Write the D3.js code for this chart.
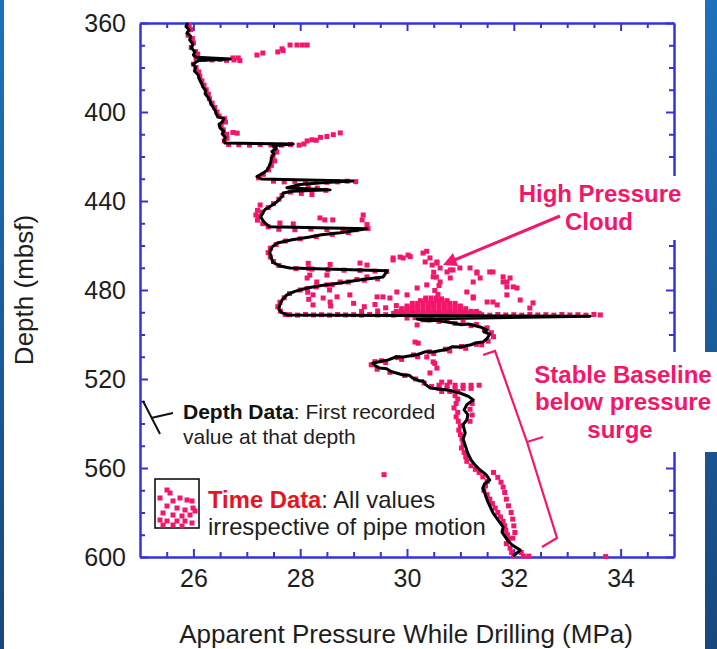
<!DOCTYPE html>
<html><head><meta charset="utf-8">
<script src="https://cdn.jsdelivr.net/npm/d3@7"></script>
<style>body{margin:0;background:#fff;} svg{display:block;font-family:"Liberation Sans",Arial,sans-serif;}</style>
</head><body><svg id="c" width="717" height="649"></svg>
<script>
// ---------- DATA ----------
const xTicks = [26, 28, 30, 32, 34];
const xMinor = [25.5, 26.5, 27, 27.5, 28.5, 29, 29.5, 30.5, 31, 31.5, 32.5, 33, 33.5, 34.5];
const yTicks = [360, 400, 440, 480, 520, 560, 600];
const yMinor = [370, 380, 390, 410, 420, 430, 450, 460, 470, 490, 500, 510, 530, 540, 550, 570, 580, 590];

// Depth data: first recorded value at each depth [pressure MPa, depth mbsf]
const depthData = [
[25.90,360.0],[25.86,361.5],[25.92,363.0],[25.88,364.5],[25.95,366.0],[25.93,367.6],[25.99,369.5],[25.96,371.2],[26.03,373.0],[26.00,374.4],[26.05,375.4],[26.69,376.2],[26.10,376.8],[26.07,377.3],[25.99,378.4],[26.04,380.0],[26.02,381.6],[26.09,383.4],[26.11,385.2],[26.15,387.0],[26.18,388.8],[26.23,390.4],[26.22,391.8],[26.27,393.3],[26.31,395.0],[26.33,396.5],[26.37,397.8],[26.41,399.6],[26.43,401.0],[26.46,402.2],[26.57,403.0],[26.54,404.5],[26.48,405.5],[26.50,407.2],[26.57,408.6],[26.54,409.9],[26.60,411.5],[26.57,412.8],[26.59,413.9],[27.87,414.4],[27.49,415.2],[27.55,416.5],[27.47,417.8],[27.51,418.9],[27.46,420.5],[27.45,422.5],[27.42,424.2],[27.38,426.1],[27.30,427.6],[27.19,429.0],[27.28,430.1],[28.99,431.0],[28.40,431.8],[28.00,432.6],[27.75,434.0],[28.56,435.0],[27.85,435.6],[27.68,436.4],[27.66,438.0],[27.57,440.2],[27.48,441.8],[27.34,443.8],[27.30,445.4],[27.26,447.2],[27.30,448.6],[27.34,449.9],[27.43,451.6],[29.25,452.5],[28.75,454.3],[28.40,455.2],[28.18,456.2],[27.85,457.4],[27.57,458.9],[27.48,460.5],[27.43,463.0],[27.45,465.0],[27.49,467.6],[27.62,469.2],[27.81,470.1],[29.63,471.4],[29.55,474.2],[29.10,475.5],[28.75,476.9],[28.40,478.0],[28.13,479.1],[27.90,480.6],[27.75,482.2],[27.66,484.5],[27.62,486.7],[27.60,488.6],[27.64,490.0],[27.75,491.2],[33.43,491.8],[30.19,493.0],[30.40,493.9],[30.55,493.6],[30.86,494.8],[31.02,495.6],[31.15,495.3],[31.37,496.6],[31.50,498.0],[31.44,498.8],[31.55,499.8],[31.50,501.8],[31.42,503.4],[31.30,503.7],[31.20,504.6],[30.99,505.6],[30.85,505.5],[30.75,506.6],[30.49,507.9],[30.35,507.7],[30.20,509.0],[29.93,510.1],[29.80,510.0],[29.65,511.4],[29.36,512.8],[29.40,514.0],[29.49,515.1],[29.62,515.4],[29.70,516.6],[29.93,518.2],[30.04,518.3],[30.10,519.5],[30.24,520.9],[30.30,520.8],[30.35,522.5],[30.43,524.0],[30.75,524.9],[30.99,526.3],[31.15,527.8],[31.24,529.4],[31.12,531.5],[31.07,533.9],[31.14,536.0],[31.12,538.4],[31.05,540.5],[31.09,544.3],[31.05,547.0],[31.10,550.6],[31.14,553.5],[31.20,556.4],[31.28,558.8],[31.37,560.9],[31.48,563.0],[31.55,565.4],[31.45,567.2],[31.42,569.0],[31.46,571.5],[31.50,574.4],[31.55,577.0],[31.61,580.2],[31.70,583.2],[31.80,586.5],[31.78,588.8],[31.84,591.0],[31.90,593.0],[31.97,594.6],[32.12,596.9],[31.99,599.6]
];

// Time data: all values irrespective of pipe motion [pressure MPa, depth mbsf]
const timeData = [
[25.92,361],[25.95,363],[25.90,365.5],[25.98,367],[26.00,369],[25.96,371],[26.04,372.8],[26.08,374],[26.05,376],
[26.20,376.3],[26.35,376.6],[26.50,376.4],[26.62,376.8],[26.76,376.6],[26.87,376.9],
[26.74,375.7],[26.84,375.7],[27.19,374.4],[27.30,373.5],[27.58,373.0],[27.66,371.6],[27.68,372.4],[27.81,369.9],[27.94,369.9],[28.04,369.9],[28.13,369.9],
[26.00,378.5],[26.05,380],[26.10,382],[26.12,384],[26.16,386],[26.20,388],[26.24,390],[26.28,392],[26.30,394],[26.35,396],[26.40,398],[26.44,400],[26.48,401.8],[26.58,403],[26.60,404.5],[26.52,406],[26.56,408],[26.62,410],[26.63,411.8],[26.58,413],[26.66,414.6],
[26.74,409.2],[26.82,409.5],
[26.85,414.7],[27.05,414.9],[27.25,414.6],[27.45,414.8],[27.65,414.9],[27.82,414.6],[27.98,414.9],[28.07,414.4],
[28.13,413.0],[28.22,412.5],[28.30,412.7],[28.38,411.4],[28.50,411.0],[28.62,410.2],[28.75,409.4],
[27.53,416.2],[27.56,418],[27.49,420],[27.52,422],[27.46,424],[27.41,426],[27.31,428],[27.22,429.6],
[27.50,431.1],[27.70,431.4],[27.90,431.2],[28.10,431.5],[28.30,431.3],[28.50,431.6],[28.70,431.4],[28.88,431.1],[29.04,431.3],
[27.95,433.2],[28.15,433.6],[28.32,434.2],[28.48,435.2],[27.82,436.0],[28.02,436.6],[28.22,437.1],
[27.66,437.5],[27.60,439.2],[27.50,441.2],[27.40,443.0],[27.28,445.0],[27.22,447],[27.20,448.6],[27.30,450.2],[27.40,451.6],[27.20,444.2],[27.17,446.3],
[27.62,449.9],[27.87,450.3],[28.37,447.6],[28.46,448.5],[28.61,448.5],[29.18,446.3],[29.16,448.5],[29.25,450.6],[27.25,441.8],
[27.60,452.7],[27.90,452.9],[28.20,452.6],[28.50,452.8],[28.80,452.7],[29.05,452.9],[29.27,452.4],
[28.90,454.2],[28.60,455.0],[28.30,456.0],[28.00,457.0],[27.72,458.0],[27.55,459.6],[27.44,461.2],[27.40,463.2],[27.44,465.2],[27.50,467.2],[27.60,469.0],
[27.92,470.4],[28.22,470.6],[28.52,470.9],[28.82,471.1],[29.12,471.2],[29.40,471.5],[29.62,471.7],
[29.74,465.6],[29.87,465.2],[30.02,464.3],[29.12,467.9],[29.25,468.8],
[29.45,475.0],[29.20,475.6],[28.90,476.4],[28.60,477.6],[28.30,478.6],[28.00,480.0],[27.80,481.6],[27.70,483.5],[27.62,485.5],[27.58,487.5],[27.63,489.5],[27.72,491.0],
[28.13,474.6],[28.18,473.3],[28.31,476.4],[28.50,477.7],[28.75,476.4],[29.06,475.3],[29.25,474.1],[28.50,473.3],[28.13,479.4],[28.24,482.2],[28.43,483.6],[28.69,483.1],[28.93,482.2],[28.24,486.7],[28.56,485.4],[28.15,468.0],[28.16,470.3],[28.14,481.0],[28.16,484.2],[28.55,480.0],[28.57,487.2],[28.56,468.5],
[29.74,466.5],[29.93,465.6],[30.06,465.0],[30.30,463.4],[30.37,462.6],[30.43,465.6],[30.34,467.4],[30.47,468.8],[30.56,467.4],[30.62,470.1],[30.75,471.9],[30.86,471.0],[30.99,470.1],[31.18,470.1],[31.31,471.9],[31.37,474.6],[31.24,476.4],[31.55,471.9],[31.80,474.1],[31.87,476.4],[31.99,478.6],[31.93,474.6],[30.81,474.6],[30.62,476.4],[30.49,474.1],[30.37,477.7],[30.19,479.1],[30.00,482.2],[29.81,480.9],[29.55,483.1],[29.44,483.1],[29.68,483.6],[31.12,480.9],[31.24,483.6],[31.50,485.4],[31.69,486.7],[31.87,482.2],[32.06,479.1],[32.36,485.8],[32.30,488.1],[30.56,467.9],[30.81,471.0],[31.31,472.4],[31.61,471.9],[31.80,476.4],[31.87,478.6],[32.12,484.5],[31.61,485.4],[31.24,483.1],
[30.50,472.0],[30.55,474.2],[30.60,478.0],[30.52,480.2],[30.58,482.0],[30.65,484.0],[30.48,486.0],
[29.00,486.0],[29.20,487.5],[29.40,486.5],[29.60,488.0],[29.80,487.0],[30.00,488.6],[29.15,489.6],[29.45,489.4],
[30.35,483.6],[30.45,483.6],[30.55,483.6],
[30.25,484.8],[30.35,484.8],[30.45,484.8],[30.55,484.8],[30.65,484.8],[30.75,484.8],
[30.10,486.0],[30.20,486.0],[30.30,486.0],[30.40,486.0],[30.50,486.0],[30.60,486.0],[30.70,486.0],[30.80,486.0],[30.90,486.0],
[30.00,487.2],[30.10,487.2],[30.20,487.2],[30.30,487.2],[30.40,487.2],[30.50,487.2],[30.60,487.2],[30.70,487.2],[30.80,487.2],[30.90,487.2],[31.00,487.2],
[29.90,488.4],[30.00,488.4],[30.10,488.4],[30.20,488.4],[30.30,488.4],[30.40,488.4],[30.50,488.4],[30.60,488.4],[30.70,488.4],[30.80,488.4],[30.90,488.4],[31.00,488.4],[31.10,488.4],
[29.80,489.6],[29.90,489.6],[30.00,489.6],[30.10,489.6],[30.20,489.6],[30.30,489.6],[30.40,489.6],[30.50,489.6],[30.60,489.6],[30.70,489.6],[30.80,489.6],[30.90,489.6],[31.00,489.6],[31.10,489.6],[31.20,489.6],[31.30,489.6],
[29.75,490.5],[29.85,490.5],[29.95,490.5],[30.05,490.5],[30.15,490.5],[30.25,490.5],[30.35,490.5],[30.45,490.5],[30.55,490.5],[30.65,490.5],[30.75,490.5],[30.85,490.5],[30.95,490.5],[31.05,490.5],[31.15,490.5],[31.25,490.5],[31.35,490.5],
[27.80,491.1],[27.95,491.3],[28.10,491.0],[28.25,491.2],[28.40,491.1],[28.55,491.3],[28.70,491.0],[28.85,491.2],[29.00,491.1],[29.15,491.3],[29.30,491.0],[29.45,491.2],[29.60,491.1],[29.75,491.3],[29.90,491.0],[30.05,491.2],[30.20,491.1],[30.35,491.3],[30.50,491.0],[30.65,491.2],[30.80,491.1],[30.95,491.3],[31.10,491.0],[31.25,491.2],[31.40,491.1],[31.55,491.3],[31.70,491.0],[31.85,491.2],[32.00,491.1],[32.15,491.3],[32.30,491.0],[32.45,491.2],[32.60,491.1],[32.75,491.3],[32.90,491.0],[33.05,491.2],[33.20,491.1],[33.35,491.3],[33.50,491.0],[33.62,491.2],
[30.00,492.6],[30.30,493.4],[30.60,494.1],[30.90,495.0],[31.20,496.0],[31.45,497.6],[31.58,499.2],[31.62,501.0],[31.52,503.0],[31.30,504.4],[31.02,505.4],[30.72,506.6],[30.42,507.8],[30.12,509.2],[29.82,510.4],[29.52,511.8],[29.33,513.6],[29.44,515.6],[29.68,517.0],[29.96,518.4],[30.16,520.0],[30.32,521.8],[30.46,523.4],
[30.15,492.4],[30.45,493.0],[30.75,493.6],[31.05,494.5],[31.30,495.5],[31.50,497.0],[31.40,504.6],[31.10,506.2],[30.80,507.4],[30.50,508.6],[30.20,510.0],[29.90,511.2],[29.60,512.6],[29.40,512.2],
[30.19,495.7],[30.15,503.4],[30.21,503.9],[30.37,510.1],[30.49,512.3],[30.52,513.0],[30.56,515.1],[30.43,517.3],
[30.65,521.4],[30.80,521.4],
[30.60,522.8],[30.75,522.8],[30.90,522.8],[31.05,522.8],[31.20,522.8],[31.35,522.8],
[30.60,524.2],[30.75,524.2],[30.90,524.2],[31.05,524.2],[31.20,524.2],
[30.65,525.6],[30.80,525.6],[30.95,525.6],
[30.90,527.5],[30.95,529.0],[30.92,531.0],[30.88,533.0],[30.95,535.0],[30.92,537.0],[30.96,539.0],[31.00,541.0],[30.97,543.0],[31.00,545.0],[31.03,547.0],[31.05,549.0],[31.02,551.0],[31.07,553.0],[31.10,555.0],[31.12,557.0],[31.20,559.0],[31.28,560.6],
[31.22,531.0],[31.18,533.6],[31.22,536.2],[31.18,539.0],
[31.35,562.0],[31.42,564.0],[31.50,566.0],[31.47,568.0],[31.44,570.0],[31.50,572.0],[31.55,574.0],[31.60,576.0],[31.65,578.0],[31.70,580.0],[31.75,582.0],[31.80,584.0],[31.83,586.0],[31.85,588.0],[31.88,590.0],[31.90,592.0],[31.86,594.0],[31.93,596.0],[31.96,598.0],[32.00,599.5],
[31.62,562.0],[31.70,564.2],[31.76,566.4],[31.80,568.6],[31.83,571.0],[31.86,574.0],[31.90,577.0],[31.95,580.0],[31.98,583.0],[32.00,586.0],[32.02,589.0],[31.98,591.5],
[32.18,599.6],[32.28,599.6],[32.14,598.0],[33.72,599.8],[29.57,563.0]
];

// legend icon dots (offsets inside the icon box)
const legendDots = [[12,11],[15,14],[5,19],[18,22],[25,19],[32,21],[37,22],[12,27],[22,29],[30,31],[38,29],[8,34],[18,36],[27,37],[35,36],[40,32],[5,41],[12,42],[22,42],[30,42],[37,44],[8,46],[18,46],[27,47]];

// ---------- DRAW ----------
const svg = d3.select("#c");
const PINK = "#f5156b", BLUE = "#3434d6", TXT = "#1e1e1e";
const x = d3.scaleLinear().domain([25, 35]).range([140, 674]);
const y = d3.scaleLinear().domain([360, 600]).range([23, 557]);

svg.append("rect").attr("width", 717).attr("height", 649).attr("fill", "#fff");
const grad = svg.append("defs").append("linearGradient").attr("id", "bg").attr("x1", 0).attr("y1", 0).attr("x2", 0).attr("y2", 1);
grad.append("stop").attr("offset", "0%").attr("stop-color", "#1d72bb");
grad.append("stop").attr("offset", "100%").attr("stop-color", "#18477f");
svg.append("rect").attr("x", 0).attr("y", 0).attr("width", 4).attr("height", 649).attr("fill", "url(#bg)");
svg.append("rect").attr("x", 705).attr("y", 0).attr("width", 12).attr("height", 649).attr("fill", "url(#bg)");

function styleAxis(g) {
  g.select(".domain").attr("stroke", BLUE).attr("stroke-width", 2);
  g.selectAll(".tick line").attr("stroke", BLUE).attr("stroke-width", 2);
  g.selectAll(".tick text").attr("fill", TXT).attr("font-size", 25).attr("font-family", "Liberation Sans, Arial, sans-serif");
}
const axL = svg.append("g").attr("transform", "translate(140,0)")
  .call(d3.axisLeft(y).tickValues(yTicks).tickSize(-8).tickSizeOuter(0).tickPadding(14).tickFormat(d3.format("d")));
styleAxis(axL);
styleAxis(svg.append("g").attr("transform", "translate(140,0)")
  .call(d3.axisLeft(y).tickValues(yMinor).tickSize(-5).tickSizeOuter(0).tickFormat("")));
styleAxis(svg.append("g").attr("transform", "translate(0,557)")
  .call(d3.axisBottom(x).tickValues(xTicks).tickSize(-8).tickSizeOuter(0).tickPadding(12).tickFormat(d3.format("d"))));
styleAxis(svg.append("g").attr("transform", "translate(0,557)")
  .call(d3.axisBottom(x).tickValues(xMinor).tickSize(-5).tickSizeOuter(0).tickFormat("")));
styleAxis(svg.append("g").attr("transform", "translate(0,23)")
  .call(d3.axisTop(x).tickValues(xTicks).tickSize(-8).tickSizeOuter(0).tickFormat("")));
styleAxis(svg.append("g").attr("transform", "translate(0,23)")
  .call(d3.axisTop(x).tickValues(xMinor).tickSize(-5).tickSizeOuter(0).tickFormat("")));
styleAxis(svg.append("g").attr("transform", "translate(674,0)")
  .call(d3.axisRight(y).tickValues(yTicks).tickSize(-8).tickSizeOuter(0).tickFormat("")));
styleAxis(svg.append("g").attr("transform", "translate(674,0)")
  .call(d3.axisRight(y).tickValues(yMinor).tickSize(-5).tickSizeOuter(0).tickFormat("")));

// time data points
svg.append("g").selectAll("rect").data(timeData).join("rect")
  .attr("x", d => x(d[0]) - 2.5).attr("y", d => y(d[1]) - 2.5)
  .attr("width", 5).attr("height", 5).attr("fill", PINK);

// depth data line
svg.append("path").datum(depthData)
  .attr("d", d3.line().x(d => x(d[0])).y(d => y(d[1])))
  .attr("fill", "none").attr("stroke", "#000").attr("stroke-width", 3).attr("stroke-linejoin", "round");

// axis titles
svg.append("text").attr("x", 406).attr("y", 643).attr("text-anchor", "middle")
  .attr("font-size", 26).attr("fill", TXT).text("Apparent Pressure While Drilling (MPa)");
svg.append("text").attr("transform", "translate(33,290) rotate(-90)").attr("text-anchor", "middle")
  .attr("font-size", 26).attr("fill", TXT).text("Depth (mbsf)");

// annotation: High Pressure Cloud
svg.append("rect").attr("x", 508).attr("y", 176).attr("width", 190).attr("height", 64).attr("fill", "#fff");
const ann1 = svg.append("text").attr("text-anchor", "middle").attr("font-size", 24).attr("font-weight", "bold").attr("fill", PINK);
ann1.append("tspan").attr("x", 600).attr("y", 202).text("High Pressure");
ann1.append("tspan").attr("x", 599).attr("y", 230).text("Cloud");
svg.append("line").attr("x1", 560).attr("y1", 216).attr("x2", 452).attr("y2", 261)
  .attr("stroke", PINK).attr("stroke-width", 3);
svg.append("path").attr("d", "M443,265 L458,266 L453,253 Z").attr("fill", PINK);

// annotation: Stable Baseline
svg.append("rect").attr("x", 530).attr("y", 352).attr("width", 187).attr("height", 100).attr("fill", "#fff");
const ann2 = svg.append("text").attr("text-anchor", "middle").attr("font-size", 24).attr("font-weight", "bold").attr("fill", PINK);
ann2.append("tspan").attr("x", 623).attr("y", 383).text("Stable Baseline");
ann2.append("tspan").attr("x", 623).attr("y", 410).text("below pressure");
ann2.append("tspan").attr("x", 620).attr("y", 438).text("surge");
svg.append("path").attr("d", "M483,355 L495,351 L527,442 L543,437 M527,442 L557,538 L542,547")
  .attr("fill", "none").attr("stroke", PINK).attr("stroke-width", 2.2).attr("stroke-linejoin", "miter");

// legend: depth data
svg.append("path").attr("d", "M143,401 L160,434 M151,418 L173,413").attr("fill", "none").attr("stroke", "#111").attr("stroke-width", 2);
const l1 = svg.append("text").attr("font-size", 21).attr("fill", TXT);
l1.append("tspan").attr("x", 183).attr("y", 419).attr("font-weight", "bold").attr("fill", "#111").text("Depth Data");
l1.append("tspan").text(": First recorded");
svg.append("text").attr("x", 183).attr("y", 444).attr("font-size", 21).attr("fill", TXT).text("value at that depth");

// legend: time data
svg.append("rect").attr("x", 155).attr("y", 479).attr("width", 44).attr("height", 49).attr("fill", "#fff").attr("stroke", "#111").attr("stroke-width", 1.6);
svg.append("g").selectAll("rect").data(legendDots).join("rect")
  .attr("x", d => 155 + d[0] - 2.5).attr("y", d => 479 + d[1] - 2.5).attr("width", 5).attr("height", 5).attr("fill", PINK);
const l2 = svg.append("text").attr("font-size", 23.8).attr("fill", TXT);
l2.append("tspan").attr("x", 208).attr("y", 508).attr("font-weight", "bold").attr("fill", "#e8141f").text("Time Data");
l2.append("tspan").text(": All values");
svg.append("text").attr("x", 208).attr("y", 535).attr("font-size", 23.8).attr("fill", TXT).text("irrespective of pipe motion");
</script></body></html>
